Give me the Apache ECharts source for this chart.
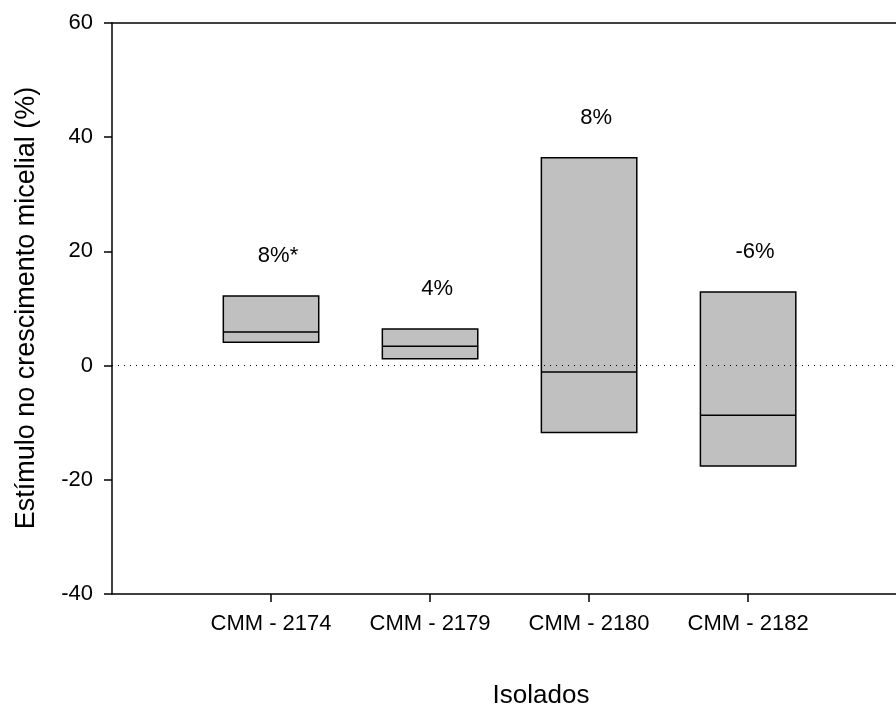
<!DOCTYPE html>
<html>
<head>
<meta charset="utf-8">
<script src="https://cdn.jsdelivr.net/npm/echarts@6/dist/echarts.min.js"></script>
<style>
  html, body { margin: 0; padding: 0; background: #fff; }
  #chart { width: 896px; height: 710px; }
</style>
</head>
<body>
<div id="chart"></div>
<script>
// Isolates and their box statistics (growth stimulus, %)
const categories = ['CMM - 2174', 'CMM - 2179', 'CMM - 2180', 'CMM - 2182'];
const lowerQuartile = [4.1, 1.2, -11.7, -17.6];
const median = [5.9, 3.4, -1.1, -8.7];
const upperQuartile = [12.2, 6.4, 36.4, 12.9];
const meanLabels = ['8%*', '4%', '8%', '-6%'];
const yTicks = [-40, -20, 0, 20, 40, 60];

const FONT = "'Liberation Sans', Arial, sans-serif";
const X_MAX = 4.93;         // visible part of the x range (positions 1..4 hold the isolates)
const BOX_WIDTH = 0.6;      // box width in x-axis units
const LABEL_RISE = 40;      // px between box top and its percentage label
const LABEL_SHIFT = 7;      // px horizontal nudge of the percentage label

const positions = categories.map((c, i) => i + 1);
const boxData = categories.map((c, i) => [positions[i], lowerQuartile[i], median[i], upperQuartile[i], i]);

const chart = echarts.init(document.getElementById('chart'), null, { renderer: 'canvas' });

const axisLineStyle = { color: '#000', width: 1.5 };

chart.setOption({
  animation: false,
  backgroundColor: '#fff',
  grid: { left: 112, top: 23, right: 0, bottom: 116, show: false },
  xAxis: [
    {
      type: 'value',
      min: 0, max: X_MAX, interval: 1,
      axisLine: { show: true, onZero: false, lineStyle: axisLineStyle },
      axisTick: { show: true, length: 8, inside: false, lineStyle: axisLineStyle, customValues: positions },
      axisLabel: {
        margin: 19, fontSize: 22, color: '#000', fontFamily: FONT,
        customValues: positions,
        formatter: v => categories[v - 1] || ''
      },
      splitLine: { show: false }
    },
    {
      // top frame line
      type: 'value', position: 'top',
      min: 0, max: X_MAX,
      axisLine: { show: true, onZero: false, lineStyle: axisLineStyle },
      axisTick: { show: false },
      axisLabel: { show: false },
      splitLine: { show: false }
    }
  ],
  yAxis: {
    type: 'value',
    min: yTicks[0], max: yTicks[yTicks.length - 1], interval: 20,
    axisLine: { show: true, onZero: false, lineStyle: axisLineStyle },
    axisTick: { show: true, length: 8, inside: false, lineStyle: axisLineStyle },
    axisLabel: { margin: 19, fontSize: 22, color: '#000', fontFamily: FONT },
    splitLine: { show: false }
  },
  graphic: [
    {
      type: 'text', x: 27, y: 308, rotation: Math.PI / 2,
      style: {
        text: 'Estímulo no crescimento micelial (%)',
        font: '27px ' + FONT, fill: '#000', align: 'center', verticalAlign: 'middle'
      }
    },
    {
      type: 'text', x: 541, y: 696,
      style: {
        text: 'Isolados',
        font: '26px ' + FONT, fill: '#000', align: 'center', verticalAlign: 'middle'
      }
    }
  ],
  series: [
    {
      type: 'custom',
      xAxisIndex: 0,
      data: boxData,
      encode: { x: 0, y: [1, 2, 3] },
      clip: false,
      renderItem: function (params, api) {
        const x = api.value(0);
        const lo = api.coord([x, api.value(1)]);
        const md = api.coord([x, api.value(2)]);
        const hi = api.coord([x, api.value(3)]);
        const half = api.size([BOX_WIDTH, 0])[0] / 2;
        const idx = api.value(4);
        return {
          type: 'group',
          children: [
            {
              type: 'rect',
              shape: { x: lo[0] - half, y: hi[1], width: half * 2, height: lo[1] - hi[1] },
              style: { fill: '#c0c0c0', stroke: '#000', lineWidth: 1.5 }
            },
            {
              type: 'line',
              shape: { x1: md[0] - half, y1: md[1], x2: md[0] + half, y2: md[1] },
              style: { stroke: '#000', lineWidth: 1.5 }
            },
            {
              type: 'text',
              x: hi[0] + LABEL_SHIFT, y: hi[1] - LABEL_RISE,
              style: {
                text: meanLabels[idx], font: '22px ' + FONT, fill: '#000',
                align: 'center', verticalAlign: 'middle'
              }
            }
          ]
        };
      },
      // dotted zero reference line, drawn over the boxes
      markLine: {
        silent: true,
        symbol: ['none', 'none'],
        z: 10,
        label: { show: false },
        lineStyle: { color: '#000', width: 1, type: [1, 5] },
        data: [{ yAxis: 0 }]
      }
    }
  ]
});
</script>
</body>
</html>
